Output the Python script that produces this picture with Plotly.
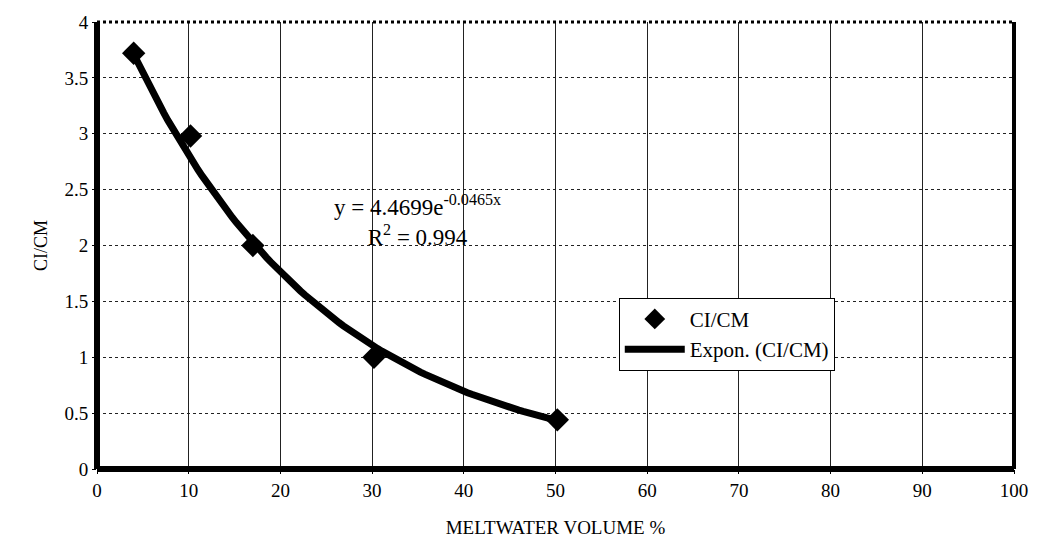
import numpy as np
import plotly.graph_objects as go

# Measured ratio vs. meltwater volume
meltwater_pct = [4, 10.2, 17, 30.2, 50.2]
ci_cm = [3.72, 2.98, 2.0, 1.0, 0.44]

# Exponential trendline coefficients (y = a * e^(b x))
fit_a = 4.4699
fit_b = -0.0465
fit_r2 = 0.994

x_ticks = [0, 10, 20, 30, 40, 50, 60, 70, 80, 90, 100]
y_ticks = [0, 0.5, 1, 1.5, 2, 2.5, 3, 3.5, 4]
y_tick_text = ["0", "0.5", "1", "1.5", "2", "2.5", "3", "3.5", "4"]

fit_x = np.linspace(min(meltwater_pct), max(meltwater_pct), 100)
fit_y = fit_a * np.exp(fit_b * fit_x)

serif = "Liberation Serif, Times New Roman, serif"

fig = go.Figure()
fig.add_trace(go.Scatter(
    x=meltwater_pct, y=ci_cm, mode="markers", name="CI/CM",
    marker=dict(symbol="diamond", size=18, color="black"),
))
fig.add_trace(go.Scatter(
    x=fit_x, y=fit_y, mode="lines", name="Expon. (CI/CM)",
    line=dict(color="black", width=7),
))

fig.add_annotation(
    x=35.0, y=2.22, xref="x", yref="y",
    text=f"y = {fit_a}e<sup>{fit_b}x</sup><br>R<sup>2</sup> = {fit_r2}",
    showarrow=False, align="center",
    font=dict(family=serif, size=23, color="black"),
)

# Heavy frame around the plotting area
frame = dict(xref="paper", yref="paper", line=dict(color="black", width=6))
fig.add_shape(type="line", x0=0, x1=0, y0=0, y1=1, **frame)
fig.add_shape(type="line", x0=0, x1=1, y0=0, y1=0, **frame)
fig.add_shape(type="line", x0=1, x1=1, y0=0, y1=1, xref="paper", yref="paper",
              line=dict(color="black", width=4))
fig.add_shape(type="line", x0=0, x1=1, y0=1, y1=1, xref="paper", yref="paper",
              line=dict(color="black", width=3, dash="dot"))

fig.update_layout(
    width=1040, height=548,
    margin=dict(l=97, r=20, t=17, b=79),
    paper_bgcolor="white", plot_bgcolor="white",
    font=dict(family=serif, size=19, color="black"),
    showlegend=True,
    legend=dict(
        x=0.569, y=0.383, xanchor="left", yanchor="top",
        bgcolor="white", bordercolor="black", borderwidth=1,
        font=dict(family=serif, size=21, color="black"),
        itemwidth=60, tracegroupgap=0,
    ),
    xaxis=dict(
        range=[0, 100], tickvals=x_ticks, ticktext=[str(v) for v in x_ticks],
        showgrid=True, gridcolor="#222", gridwidth=1,
        zeroline=False, showline=False,
        ticks="outside", ticklen=4, tickcolor="black",
        title=dict(text="MELTWATER VOLUME %", font=dict(family=serif, size=19), standoff=20),
    ),
    yaxis=dict(
        range=[0, 4], tickvals=y_ticks, ticktext=y_tick_text,
        showgrid=True, gridcolor="#222", gridwidth=1, griddash="dot",
        zeroline=False, showline=False,
        ticks="outside", ticklen=4, tickcolor="black",
        title=dict(text="CI/CM", font=dict(family=serif, size=18), standoff=12),
    ),
)

fig.write_html("out.html")
